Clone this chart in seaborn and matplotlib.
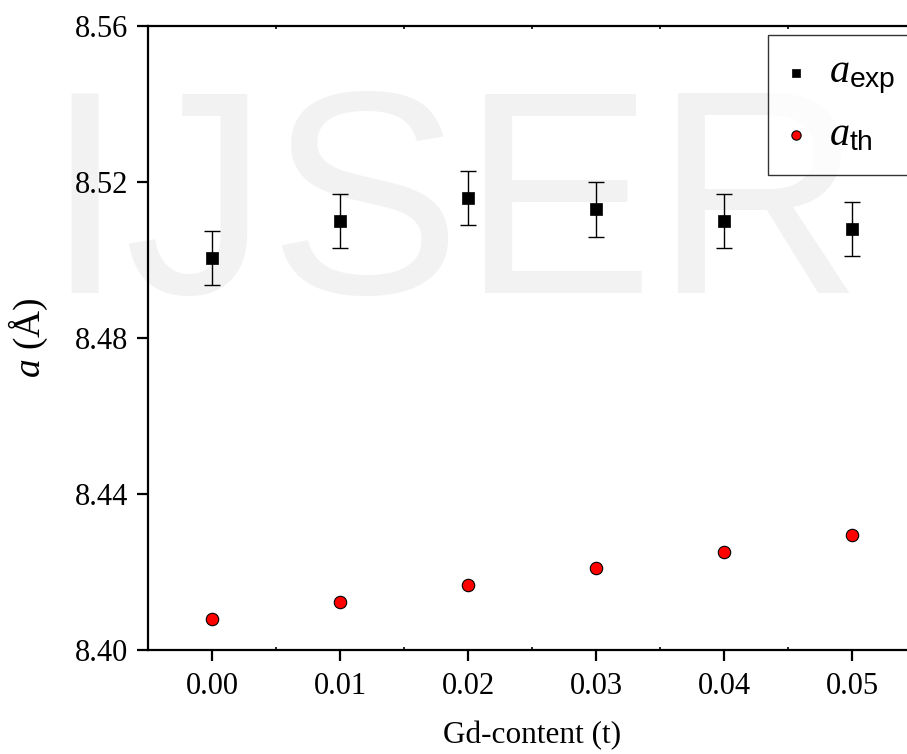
import matplotlib
matplotlib.use("Agg")
import matplotlib.pyplot as plt
import seaborn as sns
import pandas as pd
import numpy as np
from matplotlib.ticker import MultipleLocator

# ---- data ----
gd_content = [0.00, 0.01, 0.02, 0.03, 0.04, 0.05]
a_exp = [8.5005, 8.5100, 8.5159, 8.5130, 8.5100, 8.5080]
a_exp_err = [0.007, 0.007, 0.007, 0.007, 0.007, 0.007]
a_th = [8.4080, 8.4123, 8.4167, 8.4210, 8.4252, 8.4296]
x_ticks = [0.00, 0.01, 0.02, 0.03, 0.04, 0.05]
x_tick_labels = ["0.00", "0.01", "0.02", "0.03", "0.04", "0.05"]
y_ticks = [8.40, 8.44, 8.48, 8.52, 8.56]
y_tick_labels = ["8.40", "8.44", "8.48", "8.52", "8.56"]

sns.set_theme(style="white")
plt.rcParams["font.family"] = ["Liberation Serif", "DejaVu Serif"]
plt.rcParams["mathtext.fontset"] = "custom"
plt.rcParams["mathtext.it"] = "Liberation Serif:italic"
plt.rcParams["mathtext.rm"] = "Liberation Sans"
plt.rcParams["mathtext.sf"] = "Liberation Sans"
plt.rcParams["text.color"] = "black"
plt.rcParams["axes.labelcolor"] = "black"
plt.rcParams["xtick.color"] = "black"
plt.rcParams["ytick.color"] = "black"

df_exp = pd.DataFrame({"t": gd_content, "a": a_exp, "err": a_exp_err})
df_th = pd.DataFrame({"t": gd_content, "a": a_th})

fig = plt.figure(figsize=(9.07, 7.54), dpi=100)
W, H = 907, 754
# watermark (behind everything)
fig.text(44 / W, (754 - 293) / H, "IJSER", fontsize=208, color="#f2f2f2",
         family=["Liberation Sans"], ha="left", va="baseline", zorder=-10)

ax = fig.add_axes([148 / W, (754 - 650) / H, (916 - 148) / W, (650 - 26) / H])
ax.set_facecolor("none")

ax.errorbar(df_exp["t"], df_exp["a"], yerr=df_exp["err"], fmt="none",
            ecolor="black", elinewidth=1.0, capsize=5.5, capthick=1.0, zorder=2)
sns.scatterplot(data=df_exp, x="t", y="a", ax=ax, marker="s", s=65,
                color="black", edgecolor="black", linewidth=0.5, zorder=3,
                label=r"$a_{\mathrm{exp}}$")
sns.scatterplot(data=df_th, x="t", y="a", ax=ax, marker="o", s=80,
                color="red", edgecolor="black", linewidth=0.8, zorder=3,
                label=r"$a_{\mathrm{th}}$")

ax.set_xlim(-0.005, 0.055)
ax.set_ylim(8.40, 8.56)
ax.set_xticks(x_ticks)
ax.set_xticklabels(x_tick_labels)
ax.set_yticks(y_ticks)
ax.set_yticklabels(y_tick_labels)
ax.xaxis.set_minor_locator(MultipleLocator(0.005))

for s in ax.spines.values():
    s.set_linewidth(1.6)
    s.set_color("black")

ax.tick_params(axis="both", which="major", direction="out", length=8, width=1.6,
               labelsize=22, color="black", labelcolor="black")
ax.tick_params(axis="x", which="major", pad=8)
ax.tick_params(axis="y", which="major", pad=6, left=True)
ax.tick_params(axis="x", which="minor", direction="in", length=2, width=1.2,
               bottom=True, top=True)
ax.tick_params(axis="x", which="major", bottom=True, top=False)

ax.set_xlabel("Gd-content (t)", fontsize=22.5, labelpad=14, color="black")
ax.set_ylabel(r"$a$ (Å)", fontsize=27, labelpad=18, color="black")

leg = ax.legend(loc="upper right", bbox_to_anchor=(1.0, 1 - 9 / 624),
                borderaxespad=0, frameon=True, fancybox=False, fontsize=29,
                handletextpad=0.62, handlelength=0.4, borderpad=0.5,
                labelspacing=0.5, markerscale=0.75)
leg.get_frame().set_edgecolor("black")
leg.get_frame().set_linewidth(1.0)
for t in leg.get_texts():
    t.set_color("black")

fig.savefig("out.png", dpi=100, facecolor="white")
